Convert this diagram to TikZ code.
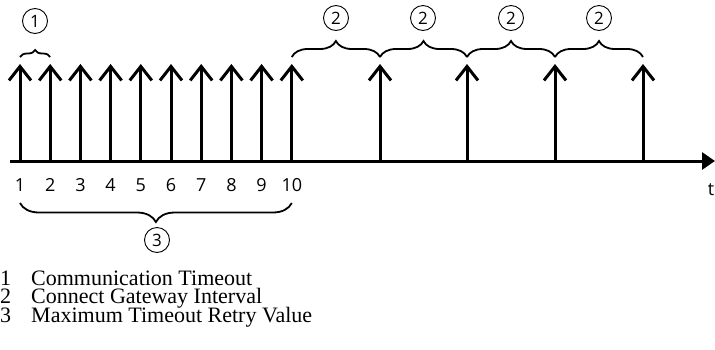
\documentclass[tikz,border=0pt]{standalone}
\usepackage{fontspec}
\setmainfont{Liberation Serif}
\newfontfamily\numfont{Open Sans}
\usetikzlibrary{arrows.meta,decorations.pathreplacing,positioning}

\begin{document}
\begin{tikzpicture}[
		x=1pt,y=-1pt,
		pulse/.style={line width=3pt,-{Straight Barb[length=14pt,width=22pt]}},
		timeaxis/.style={line width=3pt,-{Triangle[length=13pt,width=17pt]}},
		curly/.style={decorate,decoration={brace,amplitude=#1},line width=1.8pt},
		callout/.style={draw,circle,line width=0.9pt,inner sep=0pt,minimum size=25pt,
			font=\numfont\fontsize{17}{17}\selectfont},
		ticklabel/.style={font=\numfont\fontsize{18}{18}\selectfont},
		legendtext/.style={font=\fontsize{22}{22}\selectfont,anchor=base west,inner sep=0pt}
		]
		
		\useasboundingbox (0,0) rectangle (715,349);
		
		% time axis
		\coordinate (origin) at (10,161);
		\coordinate (axisend) at (715,161);
		\draw[timeaxis] (origin) -- (axisend);
		\node[ticklabel,anchor=base] (tlab) at (711,195) {t};
		
		% retries
		\foreach \i in {1,...,10} {
			\coordinate (b\i) at ({20+30.2*(\i-1)},161);
			\coordinate (t\i) at ({20+30.2*(\i-1)},64);
			\coordinate (u\i) at ({20+30.2*(\i-1)},57);
			\coordinate (d\i) at ({20+30.2*(\i-1)},203);
			\draw[pulse] (b\i) -- (t\i);
			\node[ticklabel,anchor=base] (n\i) at ({20+30.2*(\i-1)},191) {\i};
		}
		
		% gateway connects
		\foreach \x [count=\k] in {380,467,555,643} {
			\coordinate (rb\k) at (\x,161);
			\coordinate (rt\k) at (\x,64);
			\coordinate (ru\k) at (\x,57);
			\draw[pulse] (rb\k) -- (rt\k);
		}
		
		% braces
		\draw[curly=7pt] (u1) -- (u2);
		\node[callout] (c1) at (35,21) {1};
		
		\draw[curly=16pt] (u10) -- (ru1);
		\draw[curly=16pt] (ru1) -- (ru2);
		\draw[curly=16pt] (ru2) -- (ru3);
		\draw[curly=16pt] (ru3) -- (ru4);
		\node[callout] (c2a) at (336,18) {2};
		\node[callout] (c2b) at (423,18) {2};
		\node[callout] (c2c) at (511,18) {2};
		\node[callout] (c2d) at (599,18) {2};
		
		\draw[curly=19pt] (d10) -- (d1);
		\node[callout] (c3) at (157,240) {3};
		
		% legend
		\node[legendtext] (k1) at (0,285) {1};
		\node[legendtext] (k2) at (0,303) {2};
		\node[legendtext] (k3) at (0,322) {3};
		\node[legendtext] (l1) at (31,285) {Communication Timeout};
		\node[legendtext] (l2) at (31,303) {Connect Gateway Interval};
		\node[legendtext] (l3) at (31,322) {Maximum Timeout Retry Value};
		
	\end{tikzpicture}
\end{document}
